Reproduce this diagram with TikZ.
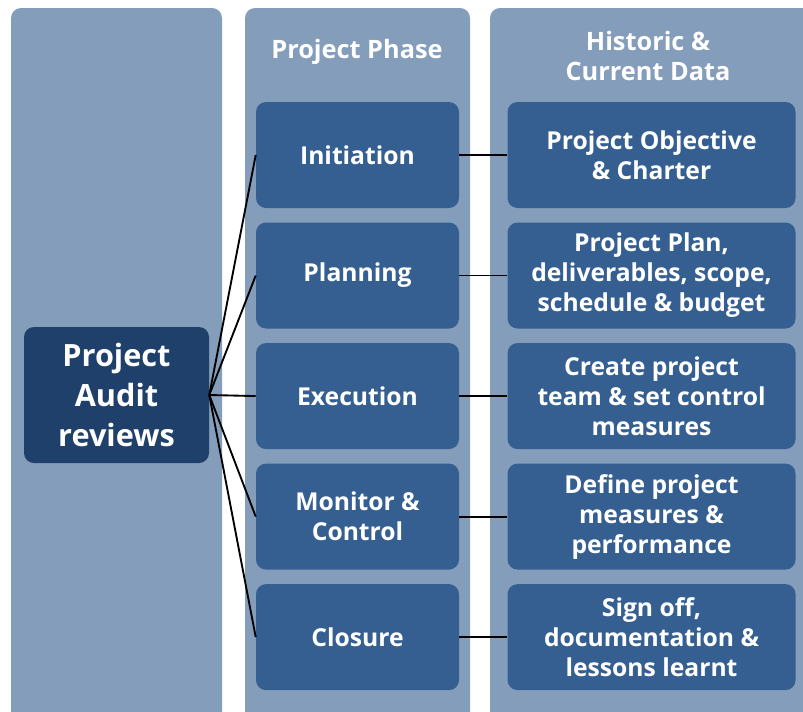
\documentclass[tikz,border=0pt]{standalone}
\usepackage{fontspec}
\setmainfont{Open Sans}
\usepackage{xcolor}
\usepackage{tikz}
\usetikzlibrary{positioning}
\definecolor{PanelBlue}{HTML}{849DBB}
\definecolor{BoxBlue}{HTML}{355F91}
\definecolor{AuditNavy}{HTML}{1F406A}

\begin{document}
\begin{tikzpicture}[x=0.75pt, y=-0.75pt, node distance=10.5pt,
    panel/.style={fill=PanelBlue, rounded corners=7.5pt},
    phasebox/.style={fill=BoxBlue, rounded corners=7.5pt, minimum width=152.25pt, minimum height=79.5pt,
      text=white, font=\fontsize{18.5}{22.5}\selectfont\bfseries, align=center},
    databox/.style={phasebox, minimum width=216pt},
    head/.style={text=white, font=\fontsize{19}{22}\selectfont\bfseries, align=center},
    link/.style={black, line width=1.4pt}]
  \useasboundingbox (0,0) rectangle (803,711);
  \clip (0,0) rectangle (803,711);
  % backdrop columns
  \fill[panel] (11,8) rectangle (222,730);
  \fill[panel] (245,8) rectangle (470,730);
  \fill[panel] (490,8) rectangle (830,730);
  \node[head] (phasehead) at (357,52) {Project Phase};
  \node[head] (datahead) at (648,56) {Historic \&\\ Current Data};
  % audit node
  \node[phasebox, fill=AuditNavy, minimum width=138.75pt, minimum height=102pt,
    font=\fontsize{23}{30}\selectfont\bfseries] (audit) at (116.5,395) {Project\\ Audit\\ reviews};
  % phases
  \node[phasebox] (ini) at (357.5,155) {Initiation};
  \node[phasebox, below=of ini] (plan) {Planning};
  \node[phasebox, below=of plan] (exec) {Execution};
  \node[phasebox, below=of exec] (mon) {Monitor \&\\ Control};
  \node[phasebox, below=of mon] (clos) {Closure};
  % data
  \node[databox, right=36pt of ini] (obj) {Project Objective\\ \& Charter};
  \node[databox, right=36pt of plan] (pplan) {Project Plan,\\ deliverables, scope,\\ schedule \& budget};
  \node[databox, right=36pt of exec] (team) {Create project\\ team \& set control\\ measures};
  \node[databox, right=36pt of mon] (meas) {Define project\\ measures \&\\ performance};
  \node[databox, right=36pt of clos] (sign) {Sign off,\\ documentation \&\\ lessons learnt};
  % connectors
  \foreach \p in {ini, plan, exec, mon, clos}
    \draw[link] (audit.east) -- (\p.west);
  \draw[link] (ini) -- (obj);
  \draw[link] (plan) -- (pplan);
  \draw[link] (exec) -- (team);
  \draw[link] (mon) -- (meas);
  \draw[link] (clos) -- (sign);
\end{tikzpicture}
\end{document}
